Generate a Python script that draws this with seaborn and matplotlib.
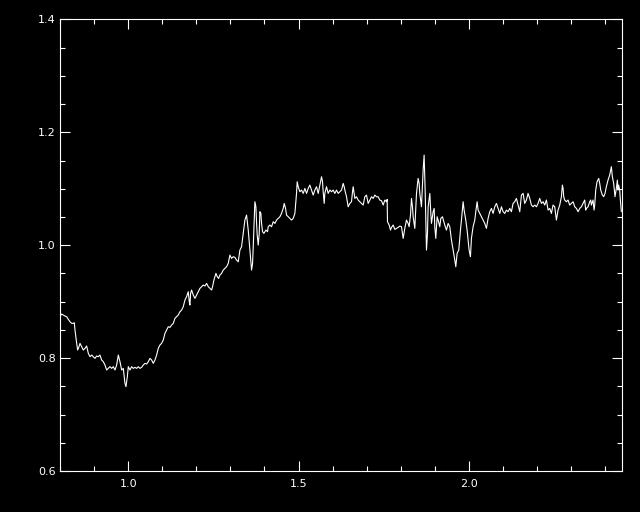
import numpy as np
import pandas as pd
import seaborn as sns
import matplotlib
matplotlib.use("Agg")
import matplotlib.pyplot as plt
from matplotlib.ticker import MultipleLocator

wavelength = [
    0.8029, 0.8049, 0.8147, 0.8196, 0.8244, 0.8293, 0.8342, 0.8391, 0.8420, 0.8440,
    0.8489, 0.8518, 0.8557, 0.8587, 0.8635, 0.8684, 0.8733, 0.8782, 0.8831, 0.8880,
    0.8929, 0.8978, 0.9026, 0.9075, 0.9124, 0.9173, 0.9222, 0.9271, 0.9320, 0.9369,
    0.9418, 0.9466, 0.9515, 0.9564, 0.9613, 0.9662, 0.9711, 0.9760, 0.9809, 0.9857,
    0.9906, 0.9936, 0.9975, 1.0004, 1.0053, 1.0102, 1.0151, 1.0200, 1.0249, 1.0297,
    1.0346, 1.0395, 1.0444, 1.0493, 1.0542, 1.0591, 1.0640, 1.0688, 1.0737, 1.0786,
    1.0835,
    1.0884, 1.0933, 1.0981, 1.1030, 1.1079, 1.1128, 1.1177, 1.1226, 1.1275, 1.1324,
    1.1372, 1.1421, 1.1470, 1.1519, 1.1568, 1.1617, 1.1666, 1.1715, 1.1763, 1.1793,
    1.1812, 1.1832, 1.1861, 1.1910, 1.1959, 1.2008, 1.2057, 1.2106, 1.2154, 1.2203,
    1.2252, 1.2301, 1.2350, 1.2399, 1.2448, 1.2477, 1.2516, 1.2575, 1.2614, 1.2653,
    1.2692, 1.2741, 1.2790, 1.2839, 1.2888, 1.2936, 1.2985, 1.3034, 1.3083, 1.3132,
    1.3181, 1.3230, 1.3279, 1.3327, 1.3376, 1.3425, 1.3474, 1.3523, 1.3572, 1.3621,
    1.3650, 1.3670, 1.3718, 1.3748, 1.3768, 1.3787, 1.3816, 1.3846, 1.3865, 1.3894,
    1.3914, 1.3943, 1.3982, 1.4041, 1.4090, 1.4109, 1.4158, 1.4207, 1.4256, 1.4305,
    1.4354, 1.4403, 1.4452, 1.4500, 1.4549, 1.4579, 1.4618, 1.4647, 1.4696, 1.4745,
    1.4794, 1.4843, 1.4892,
    1.4940, 1.4960, 1.4989, 1.5038, 1.5087, 1.5136, 1.5185, 1.5234, 1.5283, 1.5331,
    1.5380, 1.5429, 1.5478, 1.5527, 1.5576, 1.5625, 1.5674, 1.5703, 1.5722, 1.5752,
    1.5771, 1.5820, 1.5869, 1.5918, 1.5967, 1.6016, 1.6064, 1.6113, 1.6162, 1.6211,
    1.6260, 1.6309, 1.6338, 1.6358, 1.6407, 1.6455, 1.6504, 1.6553, 1.6583, 1.6602,
    1.6651, 1.6700, 1.6749, 1.6798, 1.6847, 1.6896, 1.6944, 1.6993, 1.7042, 1.7091,
    1.7140, 1.7189, 1.7238, 1.7287, 1.7335,
    1.7384, 1.7433, 1.7482, 1.7531, 1.7580, 1.7599, 1.7609, 1.7658, 1.7697, 1.7726,
    1.7775, 1.7824, 1.7873, 1.7922, 1.7971, 1.8020, 1.8069, 1.8117, 1.8166, 1.8215,
    1.8244, 1.8284, 1.8313, 1.8342, 1.8362, 1.8411, 1.8460, 1.8508, 1.8538, 1.8557,
    1.8606, 1.8655, 1.8684, 1.8714, 1.8753, 1.8782, 1.8802, 1.8851, 1.8880, 1.8900,
    1.8948, 1.8978, 1.8997, 1.9026, 1.9066, 1.9095, 1.9144, 1.9173, 1.9222, 1.9261,
    1.9290, 1.9339, 1.9388, 1.9437, 1.9486, 1.9535, 1.9584, 1.9613, 1.9652, 1.9701,
    1.9750, 1.9779, 1.9828, 1.9857, 1.9906, 1.9945, 2.0004, 2.0043, 2.0072, 2.0121,
    2.0170, 2.0199, 2.0239, 2.0268, 2.0317, 2.0366, 2.0415, 2.0463, 2.0512, 2.0561,
    2.0610, 2.0659, 2.0708, 2.0757, 2.0806, 2.0854, 2.0903, 2.0952, 2.1001, 2.1050,
    2.1099, 2.1148, 2.1197, 2.1245, 2.1294, 2.1343, 2.1392, 2.1441, 2.1490, 2.1539,
    2.1588, 2.1636, 2.1685, 2.1734, 2.1783, 2.1832, 2.1881, 2.1930, 2.1979, 2.2027,
    2.2076, 2.2125, 2.2174, 2.2223, 2.2272, 2.2321, 2.2370, 2.2418, 2.2467, 2.2516,
    2.2565, 2.2614, 2.2663, 2.2712, 2.2741, 2.2761, 2.2780, 2.2809, 2.2858, 2.2907,
    2.2956, 2.3005, 2.3054, 2.3103, 2.3152, 2.3200, 2.3249, 2.3298, 2.3347, 2.3396,
    2.3425, 2.3445, 2.3494, 2.3543, 2.3572, 2.3591, 2.3640, 2.3670, 2.3689, 2.3719,
    2.3758, 2.3807, 2.3836, 2.3866, 2.3914, 2.3953, 2.3992, 2.4031, 2.4080, 2.4129,
    2.4178, 2.4207, 2.4246, 2.4285, 2.4324, 2.4354, 2.4373, 2.4393, 2.4422, 2.4442,
    2.4471,
]

ratio = [
    0.8763, 0.8780, 0.8745, 0.8733, 0.8686, 0.8645, 0.8615, 0.8615, 0.8627, 0.8497,
    0.8261, 0.8143, 0.8202, 0.8261, 0.8202, 0.8143, 0.8173, 0.8214, 0.8084, 0.8025,
    0.8054, 0.8025, 0.7995, 0.8037, 0.8025, 0.8054, 0.7966, 0.7936, 0.7877, 0.7789,
    0.7818, 0.7848, 0.7818, 0.7848, 0.7789, 0.7877, 0.8054, 0.7936, 0.7789, 0.7818,
    0.7553, 0.7494, 0.7671, 0.7848, 0.7789, 0.7848, 0.7818, 0.7836, 0.7818, 0.7848,
    0.7818, 0.7836, 0.7877, 0.7907, 0.7895, 0.7936, 0.7995, 0.7966, 0.7907, 0.7966,
    0.8054,
    0.8173, 0.8232, 0.8261, 0.8320, 0.8438, 0.8497, 0.8556, 0.8544, 0.8586, 0.8615,
    0.8704, 0.8733, 0.8763, 0.8822, 0.8851, 0.8911, 0.9029, 0.9088, 0.9176, 0.8999,
    0.8940, 0.9147, 0.9206, 0.9117, 0.9058, 0.9117, 0.9176, 0.9235, 0.9265, 0.9294,
    0.9277, 0.9324, 0.9265, 0.9235, 0.9206, 0.9265, 0.9383, 0.9501, 0.9442, 0.9412,
    0.9471, 0.9501, 0.9560, 0.9589, 0.9619, 0.9678, 0.9825, 0.9766, 0.9796, 0.9784,
    0.9737, 0.9707, 0.9914, 0.9973, 1.0209, 1.0445, 1.0534, 1.0268, 0.9914, 0.9560,
    0.9678, 0.9973, 1.0770, 1.0681, 1.0386, 1.0180, 1.0002, 1.0209, 1.0593, 1.0563,
    1.0386, 1.0239, 1.0209, 1.0268, 1.0239, 1.0327, 1.0357, 1.0327, 1.0416, 1.0386,
    1.0445, 1.0475, 1.0504, 1.0563, 1.0652, 1.0740, 1.0652, 1.0534, 1.0504, 1.0475,
    1.0445, 1.0475, 1.0563,
    1.0917, 1.1124, 1.1036, 1.0947, 1.0977, 1.0917, 1.1006, 1.0917, 1.1006, 1.1065,
    1.0977, 1.0888, 1.0977, 1.1036, 1.0917, 1.1065, 1.1213, 1.1124, 1.0947, 1.0740,
    1.0917, 1.1036, 1.0917, 1.0977, 1.0947, 1.0977, 1.0917, 1.0977, 1.0917, 1.0947,
    1.0977, 1.1095, 1.1036, 1.0977, 1.0858, 1.0681, 1.0740, 1.0770, 1.0947, 1.1036,
    1.0829, 1.0858, 1.0799, 1.0770, 1.0740, 1.0711, 1.0858, 1.0888, 1.0740, 1.0799,
    1.0858, 1.0829, 1.0888, 1.0858, 1.0858,
    1.0799, 1.0788, 1.0711, 1.0799, 1.0770, 1.0811, 1.0416, 1.0357, 1.0268, 1.0315,
    1.0357, 1.0280, 1.0298, 1.0315, 1.0339, 1.0327, 1.0121, 1.0298, 1.0445, 1.0386,
    1.0327, 1.0534, 1.0829, 1.0681, 1.0504, 1.0298, 1.0917, 1.1183, 1.1095, 1.0917,
    1.0681, 1.1331, 1.1596, 1.0977, 0.9914, 1.0209, 1.0681, 1.0917, 1.0563, 1.0386,
    1.0593, 1.0652, 1.0327, 1.0121, 1.0504, 1.0445, 1.0327, 1.0475, 1.0504, 1.0416,
    1.0357, 1.0268, 1.0386, 1.0327, 1.0091, 0.9914, 0.9737, 0.9619, 0.9855, 0.9914,
    1.0268, 1.0445, 1.0770, 1.0622, 1.0445, 1.0268, 0.9914, 0.9796, 1.0121, 1.0327,
    1.0445, 1.0593, 1.0770, 1.0622, 1.0563, 1.0504, 1.0445, 1.0386, 1.0298, 1.0475,
    1.0593, 1.0652, 1.0563, 1.0681, 1.0740, 1.0652, 1.0563, 1.0681, 1.0593, 1.0563,
    1.0622, 1.0593, 1.0652, 1.0593, 1.0740, 1.0770, 1.0829, 1.0711, 1.0593, 1.0888,
    1.0918, 1.0740, 1.0800, 1.0918, 1.0829, 1.0711, 1.0681, 1.0711, 1.0681, 1.0740,
    1.0829, 1.0740, 1.0770, 1.0711, 1.0800, 1.0622, 1.0652, 1.0563, 1.0711, 1.0681,
    1.0445, 1.0622, 1.0711, 1.0859, 1.1065, 1.1006, 1.0859, 1.0800, 1.0770, 1.0800,
    1.0711, 1.0740, 1.0770, 1.0681, 1.0652, 1.0593, 1.0652, 1.0681, 1.0740, 1.0800,
    1.0622, 1.0652, 1.0681, 1.0770, 1.0800, 1.0711, 1.0800, 1.0622, 1.0711, 1.0977,
    1.1124, 1.1183, 1.1095, 1.0977, 1.0888, 1.0859, 1.0918, 1.1036, 1.1154, 1.1242,
    1.1390, 1.1213, 1.1095, 1.0859, 1.1006, 1.1154, 1.0977, 1.1065, 1.0977, 1.0800,
    1.0593,
]

x_major = [1.0, 1.5, 2.0]
y_major = [0.6, 0.8, 1.0, 1.2, 1.4]
x_range = (0.8, 2.449)
y_range = (0.6, 1.4)

sns.set_style("dark")
plt.rcParams["font.family"] = ["DejaVu Sans"]

df = pd.DataFrame({"wavelength": wavelength, "ratio": ratio})

fig = plt.figure(figsize=(6.4, 5.12), dpi=100, facecolor="black")
ax = fig.add_axes([60 / 640, 41 / 512, 562 / 640, 451.6 / 512])
ax.set_facecolor("black")

sns.lineplot(data=df, x="wavelength", y="ratio", ax=ax, color="white",
             linewidth=0.8, estimator=None, sort=False)

ax.set_xlim(*x_range)
ax.set_ylim(*y_range)
ax.set_xticks(x_major)
ax.set_xticklabels([f"{v:.1f}" for v in x_major])
ax.set_yticks(y_major)
ax.set_yticklabels([f"{v:.1f}" for v in y_major])
ax.xaxis.set_minor_locator(MultipleLocator(0.1))
ax.yaxis.set_minor_locator(MultipleLocator(0.05))
ax.set_xlabel("")
ax.set_ylabel("")
ax.grid(False)

ax.tick_params(which="both", direction="in", colors="white", top=True, right=True,
               bottom=True, left=True, width=0.8, labelsize=8, labelcolor="white")
ax.tick_params(which="major", length=7.5)
ax.tick_params(which="minor", length=3.8)
ax.tick_params(axis="y", which="major", pad=3)
ax.tick_params(axis="x", which="major", pad=6)
for s in ax.spines.values():
    s.set_color("white")
    s.set_linewidth(0.8)
    s.set_visible(True)

fig.savefig("out.png", dpi=100, facecolor="black")
